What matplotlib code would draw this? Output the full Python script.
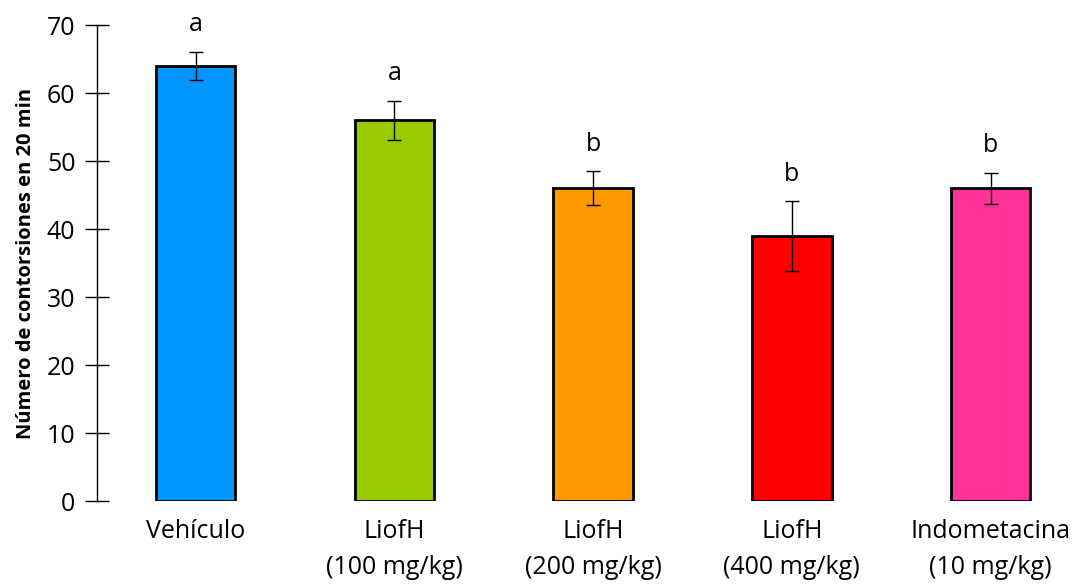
import numpy as np
import matplotlib.pyplot as plt

# datos
grupos = ['Vehículo', 'LiofH\n(100 mg/kg)', 'LiofH\n(200 mg/kg)', 'LiofH\n(400 mg/kg)', 'Indometacina\n(10 mg/kg)']
medias = [64, 56, 46, 39, 46]
errores = [2.1, 2.9, 2.5, 5.1, 2.3]
letras = ['a', 'a', 'b', 'b', 'b']
colores = ['#0096FF', '#99CC00', '#FF9900', '#FF0000', '#FF3399']

plt.rcParams['font.family'] = ['Open Sans', 'DejaVu Sans']

fig = plt.figure(figsize=(10.8, 5.84), dpi=100)
ax = fig.add_axes([0.0898, 0.142, 0.9102, 0.815])

x = np.arange(len(grupos))
ax.bar(x, medias, width=0.40, color=colores, edgecolor='black', linewidth=2, zorder=2)
ax.errorbar(x, medias, yerr=errores, fmt='none', ecolor='black', elinewidth=1, capsize=5, capthick=1, zorder=3)

for xi, m, e, l in zip(x, medias, errores, letras):
    ax.text(xi, m + e + 4.0, l, ha='center', va='center', fontsize=18, clip_on=False)

ax.set_ylim(0, 70)
ax.set_xlim(-0.496, 4.45)
ax.set_yticks(range(0, 71, 10))
ax.set_xticks(x)
ax.set_xticklabels(grupos, fontsize=18, linespacing=1.55)
ax.tick_params(axis='y', direction='inout', length=17, width=1, labelsize=18, pad=7)
ax.tick_params(axis='x', length=0, pad=13)

for s in ['top', 'right', 'bottom']:
    ax.spines[s].set_visible(False)
ax.spines['left'].set_linewidth(1)

ax.set_ylabel('Número de contorsiones en 20 min', fontsize=14.5, fontweight='bold', labelpad=8)

fig.savefig('out.png', dpi=100)
